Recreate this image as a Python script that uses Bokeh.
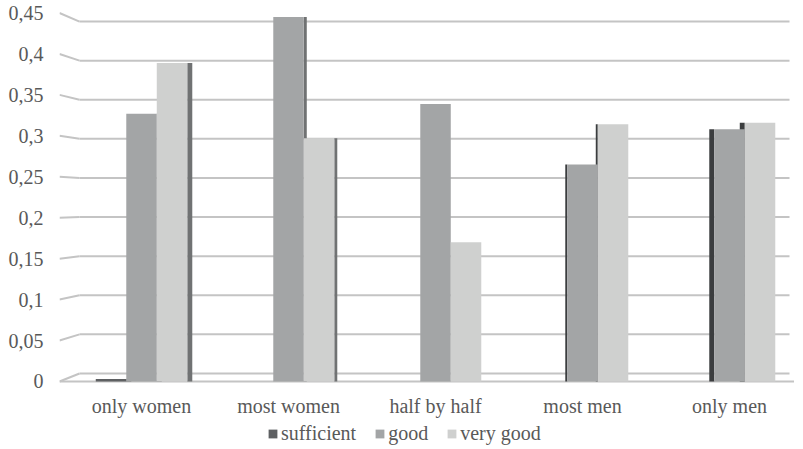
from bokeh.plotting import figure
from bokeh.models import ColumnDataSource, Range1d, FixedTicker, Legend, LegendItem
from bokeh.core.properties import value
from bokeh.transform import dodge
from bokeh.embed import file_html
from bokeh.resources import INLINE

# ---- data ----
categories = ["only women", "most women", "half by half", "most men", "only men"]
sufficient = [0.003, 0.0, 0.0, 0.0, 0.0]
good = [0.327, 0.445, 0.339, 0.265, 0.308]
very_good = [0.389, 0.297, 0.170, 0.314, 0.316]
y_ticks = [0, 0.05, 0.1, 0.15, 0.2, 0.25, 0.3, 0.35, 0.4, 0.45]
y_tick_labels = ["0", "0,05", "0,1", "0,15", "0,2", "0,25", "0,3", "0,35", "0,4", "0,45"]

# ---- style ----
FONT = "Liberation Serif"
TXT = "#595959"
C_SUF, C_GOOD, C_VG = "#5e6062", "#a3a5a6", "#cfd0cf"
BW = 0.2075           # bar width in category units
PX = 1 / 147.0        # one pixel in category units
face_px = [5, 3, 0, 2, 5]   # visible 3D side-face widths per group
face_side = [1, 1, 0, -1, -1]  # +1 right face, -1 left face
LABEL_Y = -0.0295     # category label position below the floor

xs = list(range(len(categories)))
src = ColumnDataSource(dict(x=xs, suf=sufficient, good=good, vg=very_good))

p = figure(frame_width=735, frame_height=438, output_backend="svg", toolbar_location=None,
           x_range=Range1d(-0.558, 4.442), y_range=Range1d(-0.0794, 0.4555),
           min_border_left=59, min_border_right=0, min_border_top=8, min_border_bottom=0)
p.outline_line_color = None
p.xgrid.visible = False
p.ygrid.visible = False
p.xaxis.visible = False

# perspective "3D" grid: slanted front stub + back line
GRID = "#c4c4c4"
def back(v):
    return 0.0098 + 0.955 * v
n = len(y_ticks)
p.segment(x0=[-0.558] * n, y0=y_ticks, x1=[-0.4218] * n,
          y1=[back(v) for v in y_ticks], line_color=GRID, line_width=2)
p.segment(x0=[-0.4218] * n, y0=[back(v) for v in y_ticks],
          x1=[4.408] * n, y1=[back(v) for v in y_ticks],
          line_color=GRID, line_width=2)
p.segment(x0=[-0.558], y0=[0], x1=[4.442], y1=[0], line_color=GRID, line_width=2)

# side faces (drawn first, adjacent bars cover their lower part)
offsets = [-BW, 0.0, BW]
fx, fw, ft, fc = [], [], [], []
for si, vals in enumerate([sufficient, good, very_good]):
    for ci in xs:
        w = face_px[ci] * PX
        if w <= 0 or vals[ci] <= 0:
            continue
        side = face_side[ci]
        cx = ci + offsets[si] + side * (BW / 2 + w / 2)
        fx.append(cx); fw.append(w); ft.append(vals[ci])
        fc.append("#707273" if side > 0 else "#3b3d3f")
p.vbar(x=fx, width=fw, top=ft, bottom=0, fill_color=fc, line_color=None)

r1 = p.vbar(x=dodge("x", -BW, range=p.x_range), top="suf", width=BW, source=src,
            fill_color=C_SUF, line_color=None)
r2 = p.vbar(x=dodge("x", 0.0, range=p.x_range), top="good", width=BW, source=src,
            fill_color=C_GOOD, line_color=None)
r3 = p.vbar(x=dodge("x", BW, range=p.x_range), top="vg", width=BW, source=src,
            fill_color=C_VG, line_color=None)

# category labels
p.text(x=xs, y=[LABEL_Y] * len(xs), text=categories, text_align="center",
       text_baseline="middle", text_font=value(FONT), text_font_size="20px",
       text_color=TXT)

# y axis
p.yaxis.ticker = FixedTicker(ticks=y_ticks)
p.yaxis.major_label_overrides = {t: l for t, l in zip(y_ticks, y_tick_labels)}
p.yaxis.axis_line_color = None
p.yaxis.major_tick_line_color = None
p.yaxis.minor_tick_line_color = None
p.yaxis.major_label_text_font = FONT
p.yaxis.major_label_text_font_size = "20px"
p.yaxis.major_label_text_color = TXT
p.yaxis.major_label_standoff = 10

legend = Legend(items=[LegendItem(label="sufficient", renderers=[r1]),
                       LegendItem(label="good", renderers=[r2]),
                       LegendItem(label="very good", renderers=[r3])],
                orientation="horizontal", location=(208, 1),
                label_text_font=FONT, label_text_font_size="20px",
                label_text_color=TXT,
                glyph_width=11, glyph_height=11, label_standoff=3, spacing=18,
                label_height=20, padding=0, margin=0, border_line_color=None,
                background_fill_alpha=0)
p.add_layout(legend, "center")

open("out.html", "w").write(file_html(p, INLINE))
